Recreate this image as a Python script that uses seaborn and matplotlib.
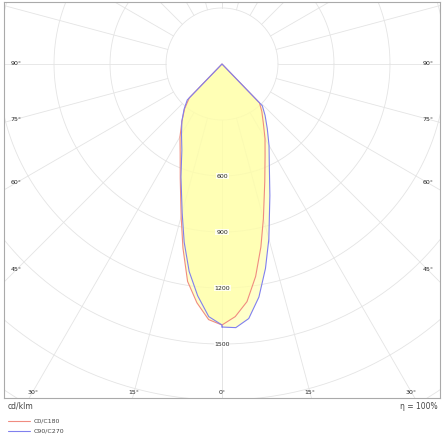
import numpy as np
import matplotlib
matplotlib.use("Agg")
import matplotlib.pyplot as plt
import seaborn as sns

sns.set_style("white")
plt.rcParams['font.family'] = ['DejaVu Sans']

gamma = [0, 3, 6, 9, 12, 15, 20, 25, 30, 35, 40, 44, 46, 90, 180]
c0   = [1398, 1355, 1280, 1152, 1002, 857, 670, 546, 461, 386, 332, 289, 0, 0, 0]
c180 = [1398, 1371, 1286, 1179, 1007, 846, 654, 530, 450, 375, 311, 252, 0, 0, 0]
c90  = [1409, 1414, 1371, 1264, 1120, 970, 750, 600, 504, 423, 359, 311, 0, 0, 0]
c270 = [1398, 1355, 1248, 1125, 975, 825, 643, 509, 434, 375, 316, 268, 0, 0, 0]
ring_labels = [600, 900, 1200, 1500]
angle_labels = [0, 15, 30, 45, 60, 75, 90]

fig = plt.figure(figsize=(4.44, 4.40), dpi=100)
ax = fig.add_axes([4/444, 42/440, 436/444, 396/440])
XL, YT, YB = 1168, 332, -1789
ax.set_xlim(-XL, XL); ax.set_ylim(YB, YT)
ax.set_aspect('auto')

def curve(right, left):
    g = np.radians(np.array(gamma, float))
    rr, rl = np.array(right, float), np.array(left, float)
    xs = np.concatenate([rr*np.sin(g), (-rl*np.sin(g))[::-1]])
    ys = np.concatenate([-rr*np.cos(g), (-rl*np.cos(g))[::-1]])
    return xs, ys

grid_c = '#e4e4e4'
t = np.linspace(0, 2*np.pi, 400)
for r in range(300, 4000, 300):
    ax.plot(r*np.cos(t), r*np.sin(t), color=grid_c, lw=0.6, zorder=1)
for a in range(0, 181, 15):
    ar = np.radians(a)
    for s in (1, -1):
        ax.plot([s*300*np.sin(ar), s*4000*np.sin(ar)], [-300*np.cos(ar), -4000*np.cos(ar)],
                color=grid_c, lw=0.6, zorder=1)

xr, yr = curve(c0, c180)
xb, yb = curve(c90, c270)
ax.fill(xr, yr, color='#ffffa8', alpha=0.6, lw=0, zorder=2)
ax.fill(xb, yb, color='#ffffa8', alpha=0.6, lw=0, zorder=2)
sns.lineplot(x=np.append(xr, xr[0]), y=np.append(yr, yr[0]), sort=False, estimator=None,
             color='#f08c80', lw=0.8, ax=ax, zorder=3)
sns.lineplot(x=np.append(xb, xb[0]), y=np.append(yb, yb[0]), sort=False, estimator=None,
             color='#8080ee', lw=0.8, ax=ax, zorder=3)

for v in ring_labels:
    ax.text(0, -v, str(v), fontsize=4.5, ha='center', va='center', zorder=4,
            bbox=dict(facecolor='white', edgecolor='none', pad=0.5, alpha=0.8))

ybot = YB + 32
xside = XL - 65
for a in angle_labels:
    ar = np.radians(a)
    if a <= 30:
        d = -ybot*np.tan(ar)
        for s in ((1, -1) if a else (1,)):
            ax.text(s*d, ybot, f"{a}°", fontsize=4.5, ha='center', va='center', zorder=4)
    else:
        y = -xside/np.tan(ar) if a < 90 else 0
        for s in (1, -1):
            ax.text(s*xside, y, f"{a}°", fontsize=4.5, ha='center', va='center', zorder=4)

for sp in ax.spines.values():
    sp.set_color('#aaaaaa'); sp.set_linewidth(0.8)
ax.set_xticks([]); ax.set_yticks([])
ax.set_xlabel(''); ax.set_ylabel('')

fig.text(8/444, 1-406/440, 'cd/klm', fontsize=5.5, va='center', color='#444444')
fig.text(438/444, 1-406/440, 'η = 100%', fontsize=5.5, va='center', ha='right', color='#444444')
fig.add_artist(plt.Line2D([8/444, 30/444], [1-421/440]*2, color='#f08c80', lw=0.8))
fig.add_artist(plt.Line2D([8/444, 30/444], [1-431/440]*2, color='#8080ee', lw=0.8))
fig.text(34/444, 1-421/440, 'C0/C180', fontsize=4.5, va='center', color='#444444')
fig.text(34/444, 1-431/440, 'C90/C270', fontsize=4.5, va='center', color='#444444')

fig.savefig('out.png', dpi=100)
